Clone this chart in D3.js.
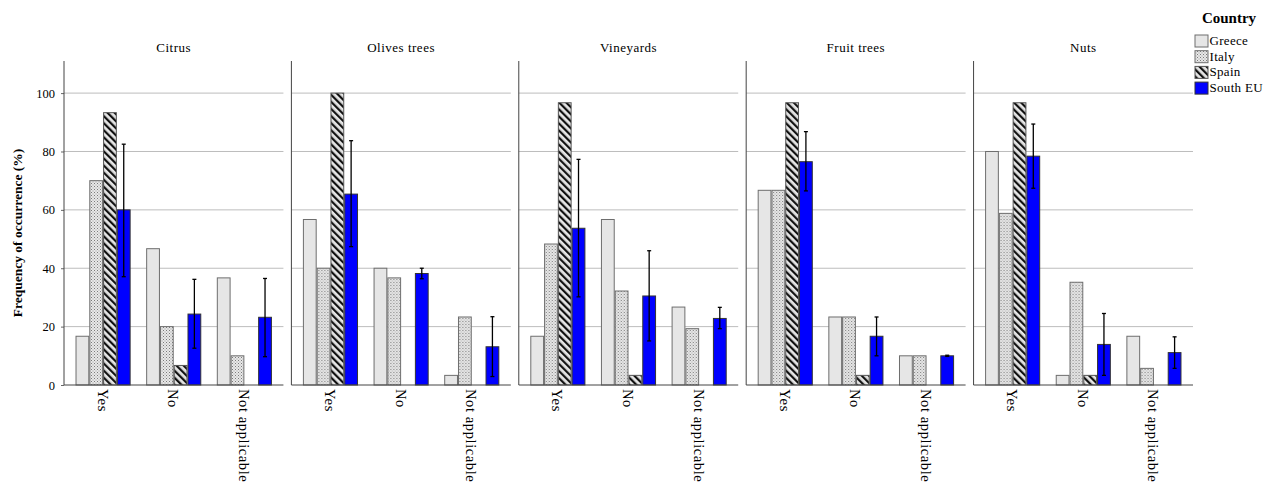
<!DOCTYPE html>
<html><head><meta charset="utf-8">
<script src="https://cdn.jsdelivr.net/npm/d3@7"></script>
<style>body{margin:0;background:#fff}svg{display:block}text{font-family:"Liberation Serif","Times New Roman",serif;fill:#000}</style>
</head><body><div id="chart"></div>
<script>
const crops = ["Citrus","Olives trees","Vineyards","Fruit trees","Nuts"];
const categories = ["Yes","No","Not applicable"];
const countries = ["Greece","Italy","Spain","South EU"];
const yTicks = [0,20,40,60,80,100];
// values per crop: [Yes, No, Not applicable]
const greece = [[16.7,46.7,36.7],[56.7,40,3.3],[16.7,56.7,26.7],[66.7,23.3,10],[80,3.3,16.7]];
const italy  = [[70,20,10],[40,36.7,23.3],[48.3,32.2,19.3],[66.7,23.3,10],[58.8,35.2,5.7]];
const spain  = [[93.3,6.7,0],[100,0,0],[96.7,3.3,0],[96.7,3.3,0],[96.7,3.3,0]];
const southEU = [[60,24.3,23.2],[65.4,38.2,13.1],[53.7,30.5,22.8],[76.5,16.7,10],[78.4,13.9,11.1]];
const southEULow  = [[37.1,12.6,9.7],[47.4,36.4,2.9],[30.2,15.1,19.3],[66.5,10,9.8],[67.4,3.3,5.7]];
const southEUHigh = [[82.5,36.2,36.5],[83.7,40,23.4],[77.3,46,26.6],[86.8,23.3,10.2],[89.4,24.5,16.5]];

const seriesByCountry = [greece, italy, spain, southEU];
const W = 1275, H = 486;
const svg = d3.select("#chart").append("svg").attr("width", W).attr("height", H);
const defs = svg.append("defs");

// patterns
const pDot = defs.append("pattern").attr("id","pItaly").attr("patternUnits","userSpaceOnUse").attr("width",3).attr("height",3);
pDot.append("rect").attr("width",3).attr("height",3).attr("fill","#e8e8e8");
pDot.append("rect").attr("x",0).attr("y",0).attr("width",1).attr("height",1).attr("fill","#7a7a7a");
pDot.append("rect").attr("x",1.5).attr("y",1.5).attr("width",1).attr("height",1).attr("fill","#999");
const pStr = defs.append("pattern").attr("id","pSpain").attr("patternUnits","userSpaceOnUse").attr("width",5).attr("height",5).attr("patternTransform","rotate(-45)");
pStr.append("rect").attr("width",5).attr("height",5).attr("fill","#e6e6e6");
pStr.append("rect").attr("x",0).attr("y",0).attr("width",2.2).attr("height",5).attr("fill","#111");

const fills = ["#e6e6e6","url(#pItaly)","url(#pSpain)","#0000ff"];
const strokes = ["#6e6e6e","#6e6e6e","#555","#333"];

const y = d3.scaleLinear().domain([0,111]).range([385,61]);
const xPanel = d3.scaleBand().domain(crops).range([64,1193]).paddingInner(0.035).paddingOuter(0);
const xCat = d3.scaleBand().domain(categories).range([0, xPanel.bandwidth()]).paddingInner(0.22).paddingOuter(0.163);
const xCountry = d3.scaleBand().domain(countries).range([0, xCat.bandwidth()]).padding(0);

// y axis labels
const yAxis = d3.axisLeft(y).tickValues(yTicks).tickSize(3).tickPadding(6);
const ga = svg.append("g").attr("transform","translate(64,0)").call(yAxis);
ga.select(".domain").remove();
ga.selectAll(".tick line").attr("stroke","#666");
ga.selectAll("text").style("font-family","Liberation Serif").style("font-size","12.5px");

svg.append("text").attr("transform","translate(22,233) rotate(-90)").attr("text-anchor","middle")
  .style("font-size","13.5px").style("font-weight","bold").text("Frequency of occurrence (%)");

crops.forEach((crop, ci) => {
  const g = svg.append("g").attr("transform",`translate(${xPanel(crop)},0)`);
  const w = xPanel.bandwidth();
  // gridlines
  g.selectAll("line.grid").data(yTicks.filter(t=>t>0)).join("line")
    .attr("x1",0).attr("x2",w).attr("y1",d=>y(d)).attr("y2",d=>y(d))
    .attr("stroke","#bdbdbd").attr("stroke-width",1);
  // title
  g.append("text").attr("x",w/2).attr("y",52).attr("text-anchor","middle").style("font-size","13px").style("letter-spacing","0.5px").text(crop);
  // bars
  categories.forEach((cat, ki) => {
    const gx = xCat(cat);
    countries.forEach((c, si) => {
      const v = seriesByCountry[si][ci][ki];
      if (v <= 0) return;
      g.append("rect").attr("x", gx + xCountry(c) + 0.5).attr("y", y(v))
        .attr("width", xCountry.bandwidth() - 1).attr("height", y(0) - y(v))
        .attr("fill", fills[si]).attr("stroke", strokes[si]).attr("stroke-width",1);
    });
    // error bar for South EU
    const cx = gx + xCountry("South EU") + xCountry.bandwidth()/2;
    const lo = southEULow[ci][ki], hi = southEUHigh[ci][ki];
    g.append("line").attr("x1",cx).attr("x2",cx).attr("y1",y(lo)).attr("y2",y(hi)).attr("stroke","#000").attr("stroke-width",1.3);
    [lo,hi].forEach(v => g.append("line").attr("x1",cx-2).attr("x2",cx+2).attr("y1",y(v)).attr("y2",y(v)).attr("stroke","#000").attr("stroke-width",1.3));
    // category label
    g.append("text").attr("transform",`translate(${gx + xCat.bandwidth()/2 - 5.5},389) rotate(90)`)
      .attr("text-anchor","start").style("font-size","14.5px").style("letter-spacing","0.6px").text(cat);
  });
  // frame: left line and bottom axis
  g.append("line").attr("x1",0).attr("x2",0).attr("y1",61).attr("y2",385).attr("stroke","#444").attr("stroke-width",1);
  g.append("line").attr("x1",0).attr("x2",w).attr("y1",385).attr("y2",385).attr("stroke","#444").attr("stroke-width",1);
});

// legend
const lg = svg.append("g");
lg.append("text").attr("x",1229).attr("y",23).attr("text-anchor","middle").style("font-size","15px").style("font-weight","bold").text("Country");
countries.forEach((c,i) => {
  const yy = 35 + i*15.7;
  lg.append("rect").attr("x",1195).attr("y",yy).attr("width",13).attr("height",12)
    .attr("fill",fills[i]).attr("stroke",strokes[i]).attr("stroke-width",1);
  lg.append("text").attr("x",1209.5).attr("y",yy+10).style("font-size","13px").style("letter-spacing","0.3px").text(c);
});
</script></body></html>
